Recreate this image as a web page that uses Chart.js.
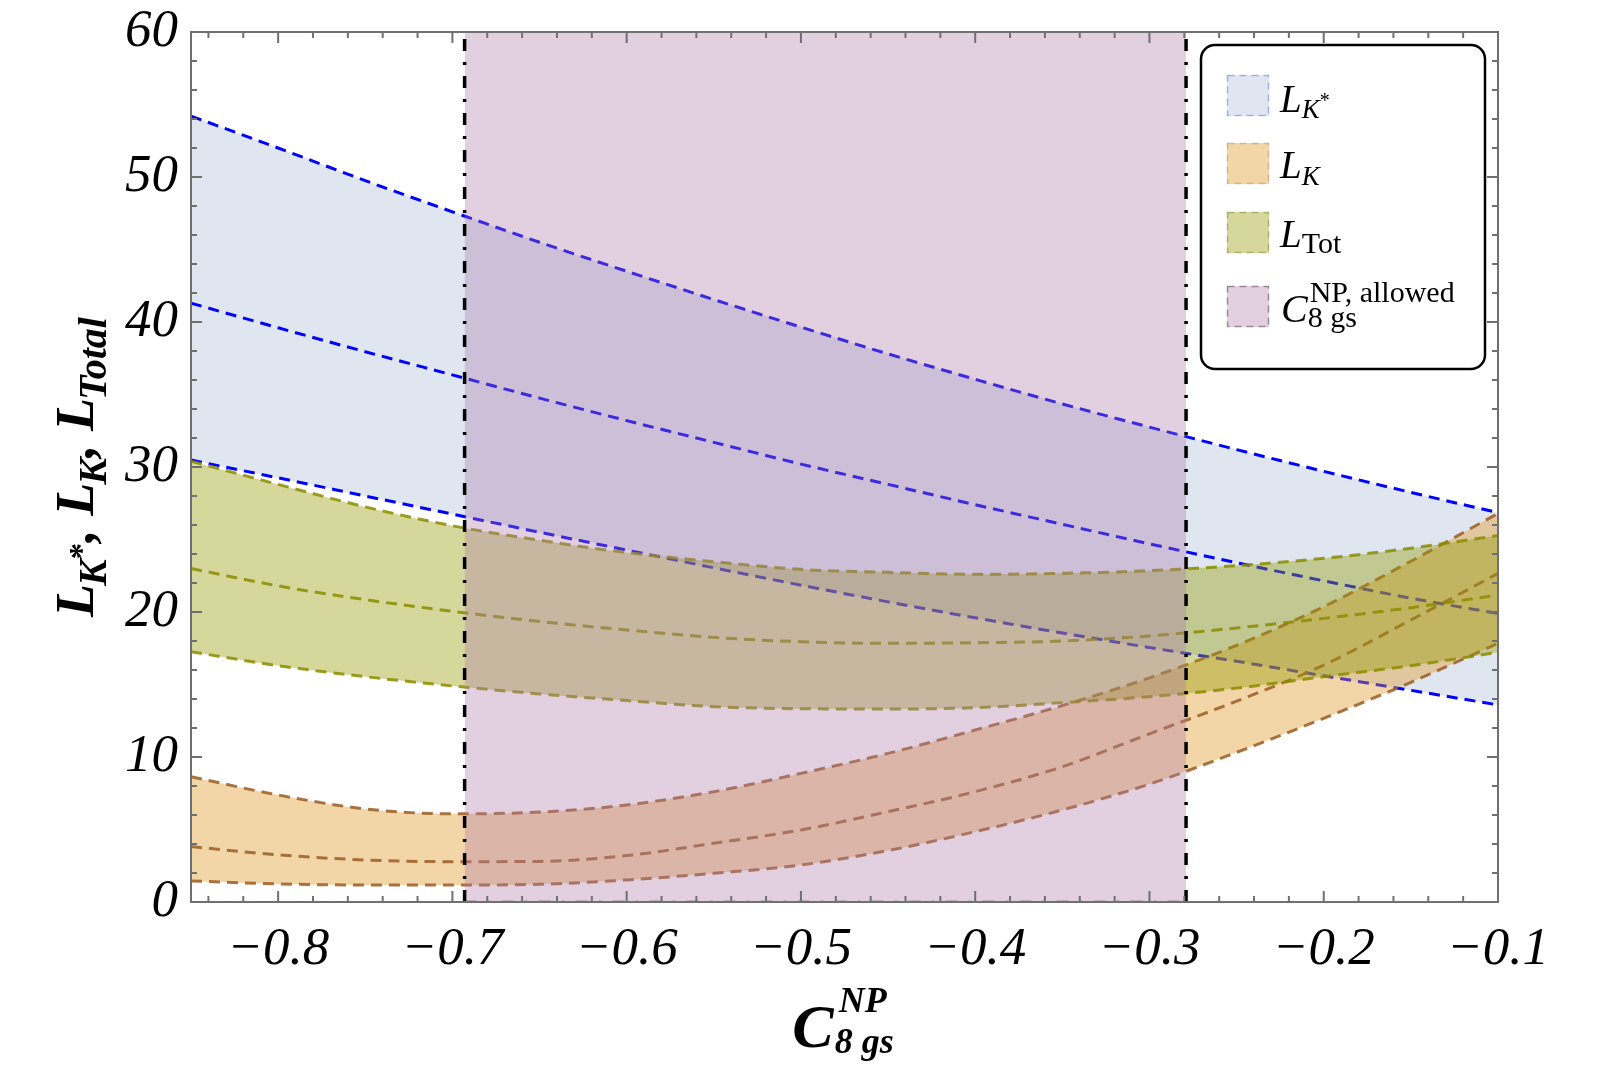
<!DOCTYPE html>
<html>
<head>
<meta charset="utf-8">
<script src="https://cdn.jsdelivr.net/npm/chart.js@4.4.1/dist/chart.umd.min.js"></script>
<style>
  html, body { margin: 0; padding: 0; background: #fff; }
  #wrap { width: 1600px; height: 1067px; position: relative; }
</style>
</head>
<body>
<div id="wrap"><canvas id="chart" width="1600" height="1067"></canvas></div>
<script>
// values (x = C8gs^NP)
const xVals = [-0.85, -0.8, -0.75, -0.7, -0.65, -0.6, -0.55, -0.5, -0.45, -0.4, -0.35, -0.3, -0.25, -0.2, -0.15, -0.1];

// L_K* band
const lKstarUpper = [54.2, 52.0, 49.75, 47.6, 45.5, 43.5, 41.55, 39.65, 37.8, 36.05, 34.35, 32.75, 31.2, 29.7, 28.25, 26.85];
const lKstarMid   = [41.3, 39.6, 37.95, 36.35, 34.75, 33.2, 31.7, 30.2, 28.8, 27.4, 26.05, 24.7, 23.4, 22.15, 20.95, 19.9];
const lKstarLower = [30.48, 29.25, 28.0, 26.75, 25.5, 24.27, 23.05, 21.85, 20.7, 19.6, 18.55, 17.55, 16.6, 15.6, 14.6, 13.59];

// L_K band
const lKUpper = [8.64, 7.38, 6.42, 6.08, 6.2, 6.69, 7.61, 8.87, 10.25, 11.86, 13.55, 15.46, 17.7, 20.37, 23.5, 26.8];
const lKMid   = [3.82, 3.25, 2.9, 2.78, 2.8, 3.2, 4.05, 4.97, 6.23, 7.61, 9.33, 11.6, 13.85, 16.34, 19.45, 22.66];
const lKLower = [1.45, 1.25, 1.17, 1.17, 1.22, 1.52, 1.98, 2.55, 3.55, 4.85, 6.35, 8.13, 10.32, 12.67, 15.15, 17.84];

// L_Tot band
const lTotUpper = [30.4, 28.8, 27.25, 25.95, 24.95, 24.1, 23.47, 22.94, 22.74, 22.6, 22.67, 22.85, 23.2, 23.7, 24.4, 25.27];
const lTotMid   = [23.0, 21.8, 20.85, 20.05, 19.35, 18.76, 18.25, 17.95, 17.84, 17.88, 18.0, 18.35, 18.9, 19.56, 20.3, 21.17];
const lTotLower = [17.26, 16.3, 15.54, 14.9, 14.35, 13.89, 13.47, 13.33, 13.31, 13.4, 13.75, 14.16, 14.75, 15.54, 16.3, 17.22];

// allowed C8gs^NP window
const allowedRange = [-0.693, -0.279];

const xRange = [-0.85, -0.1];
const yRange = [0, 60];
const xTickLabels = [-0.8, -0.7, -0.6, -0.5, -0.4, -0.3, -0.2, -0.1];
const yTickLabels = [0, 10, 20, 30, 40, 50, 60];

const SERIF = '"Liberation Serif", "Times New Roman", serif';

const blueFill = 'rgba(94,129,181,0.2)';
const orangeFill = 'rgba(225,153,35,0.4)';
const greenFill = 'rgba(150,155,5,0.4)';
const purpleFill = 'rgba(172,121,169,0.35)';
const blueLine = 'rgb(0,0,255)';
const orangeLine = 'rgba(160,100,45,0.9)';
const greenLine = 'rgba(140,140,0,0.85)';

function pts(ys) { return xVals.map((x, i) => ({ x: x, y: ys[i] })); }

function bandLine(ys, color, order, fillTarget, fillColor) {
  return {
    data: pts(ys),
    borderColor: color,
    borderWidth: 3,
    borderDash: [11, 7],
    backgroundColor: fillColor || 'transparent',
    fill: fillTarget === undefined ? false : { target: fillTarget },
    cubicInterpolationMode: 'monotone',
    pointRadius: 0,
    order: order
  };
}

function vLine(x) {
  return {
    data: [{ x: x, y: yRange[0] }, { x: x, y: yRange[1] }],
    borderColor: '#000',
    borderWidth: 3.5,
    borderDash: [12, 11, 3, 11],
    fill: false,
    pointRadius: 0,
    order: 1
  };
}

// frame with inward ticks on all four sides
const framePlugin = {
  id: 'frame',
  afterDatasetsDraw(chart) {
    const { ctx, chartArea: a, scales } = chart;
    const sx = scales.x, sy = scales.y;
    ctx.save();
    ctx.strokeStyle = '#707070';
    ctx.lineWidth = 2;
    ctx.beginPath();
    const xt = (px, len) => {
      ctx.moveTo(px, a.bottom); ctx.lineTo(px, a.bottom - len);
      ctx.moveTo(px, a.top); ctx.lineTo(px, a.top + len);
    };
    const yt = (py, len) => {
      ctx.moveTo(a.left, py); ctx.lineTo(a.left + len, py);
      ctx.moveTo(a.right, py); ctx.lineTo(a.right - len, py);
    };
    xTickLabels.forEach(v => xt(sx.getPixelForValue(v), 11));
    for (let k = -42; k <= -6; k++) {
      if (k % 5 !== 0) xt(sx.getPixelForValue(k * 0.02), 6);
    }
    yTickLabels.forEach(v => yt(sy.getPixelForValue(v), 11));
    for (let k = 1; k < 30; k++) {
      if (k % 5 !== 0) yt(sy.getPixelForValue(k * 2), 6);
    }
    ctx.stroke();
    ctx.strokeRect(a.left, a.top, a.right - a.left, a.bottom - a.top);
    ctx.restore();
  }
};

function runs(ctx, x, y, parts) {
  let cx = x;
  parts.forEach(p => {
    ctx.font = p.font;
    ctx.fillText(p.t, cx + (p.dx || 0), y + (p.dy || 0));
    cx += ctx.measureText(p.t).width + (p.dx || 0);
  });
  return cx;
}

function runsWidth(ctx, parts) {
  let w = 0;
  parts.forEach(p => { ctx.font = p.font; w += ctx.measureText(p.t).width + (p.dx || 0); });
  return w;
}

const textPlugin = {
  id: 'texts',
  afterDraw(chart) {
    const { ctx, chartArea: a } = chart;
    ctx.save();
    ctx.fillStyle = '#000';
    ctx.textBaseline = 'alphabetic';
    ctx.textAlign = 'left';

    // y axis title
    const big = 'italic bold 54px ' + SERIF;
    const sub = 'italic bold 40px ' + SERIF;
    const yParts = [
      { t: 'L', font: big },
      { t: 'K', font: sub, dy: 13, dx: -2 },
      { t: '*', font: 'bold 33px ' + SERIF, dy: -1 },
      { t: ', ', font: big },
      { t: 'L', font: big },
      { t: 'K', font: sub, dy: 13, dx: -2 },
      { t: ', ', font: big },
      { t: 'L', font: big },
      { t: 'Total', font: sub, dy: 13, dx: -2 }
    ];
    const yw = runsWidth(ctx, yParts);
    const cy = (a.top + a.bottom) / 2;
    ctx.save();
    ctx.translate(93, cy);
    ctx.rotate(-Math.PI / 2);
    runs(ctx, -yw / 2, 0, yParts);
    ctx.restore();

    // x axis title
    ctx.font = 'italic bold 62px ' + SERIF;
    const cW = ctx.measureText('C').width;
    ctx.font = 'italic bold 36px ' + SERIF;
    const supW = ctx.measureText('NP').width;
    const subW = ctx.measureText('8 gs').width;
    const totW = cW + 4 + Math.max(supW, subW);
    const cx = (a.left + a.right) / 2 - totW / 2;
    ctx.font = 'italic bold 62px ' + SERIF;
    ctx.fillText('C', cx, 1047);
    ctx.font = 'italic bold 36px ' + SERIF;
    ctx.fillText('NP', cx + cW + 5, 1012);
    ctx.fillText('8 gs', cx + cW + 1, 1053);

    // legend
    const bx = 1201, by = 45, bw = 284, bh = 324;
    ctx.beginPath();
    ctx.roundRect(bx, by, bw, bh, 14);
    ctx.fillStyle = '#fff';
    ctx.fill();
    ctx.lineWidth = 2.5;
    ctx.strokeStyle = '#000';
    ctx.stroke();

    const items = [
      { top: 75, fill: blueFill, edge: 'rgba(120,120,230,0.55)' },
      { top: 143, fill: orangeFill, edge: 'rgba(190,150,100,0.55)' },
      { top: 212, fill: greenFill, edge: 'rgba(140,140,60,0.55)' },
      { top: 286, fill: purpleFill, edge: 'rgba(120,105,120,0.7)' }
    ];
    items.forEach(it => {
      ctx.fillStyle = it.fill;
      ctx.fillRect(1227, it.top, 42, 41);
      ctx.setLineDash([7, 5]);
      ctx.lineWidth = 1.5;
      ctx.strokeStyle = it.edge;
      ctx.strokeRect(1227.5, it.top + 0.5, 41, 40);
      ctx.setLineDash([]);
    });

    ctx.fillStyle = '#000';
    const li = 'italic 39px ' + SERIF;
    const ls = 'italic 27px ' + SERIF;
    const up = '30px ' + SERIF;
    runs(ctx, 1280, 112, [
      { t: 'L', font: li },
      { t: 'K', font: ls, dy: 6 },
      { t: '*', font: '20px ' + SERIF, dy: -5 }
    ]);
    runs(ctx, 1280, 178, [
      { t: 'L', font: li },
      { t: 'K', font: ls, dy: 7 }
    ]);
    runs(ctx, 1280, 247, [
      { t: 'L', font: li },
      { t: 'Tot', font: up, dy: 6 }
    ]);
    ctx.font = 'italic 40px ' + SERIF;
    ctx.fillText('C', 1281, 322);
    const cw2 = ctx.measureText('C').width;
    ctx.font = up;
    ctx.fillText('NP, allowed', 1283 + cw2, 302);
    ctx.fillText('8 gs', 1281 + cw2, 327);

    ctx.restore();
  }
};

const datasets = [
  bandLine(lKstarUpper, blueLine, 62, 2, blueFill),   // 0
  bandLine(lKstarMid, blueLine, 61),                  // 1
  bandLine(lKstarLower, blueLine, 61),                // 2
  bandLine(lKUpper, orangeLine, 52, 5, orangeFill),   // 3
  bandLine(lKMid, orangeLine, 51),                    // 4
  bandLine(lKLower, orangeLine, 51),                  // 5
  bandLine(lTotUpper, greenLine, 42, 8, greenFill),   // 6
  bandLine(lTotMid, greenLine, 41),                   // 7
  bandLine(lTotLower, greenLine, 41),                 // 8
  {                                                   // 9 allowed window
    data: [{ x: allowedRange[0], y: yRange[1] }, { x: allowedRange[1], y: yRange[1] }],
    borderColor: 'transparent',
    borderWidth: 0,
    backgroundColor: purpleFill,
    fill: 'origin',
    pointRadius: 0,
    order: 30
  },
  {                                                   // 10 window base edge
    data: [{ x: allowedRange[0], y: yRange[0] }, { x: allowedRange[1], y: yRange[0] }],
    borderColor: 'rgba(130,110,130,0.7)',
    borderWidth: 3,
    borderDash: [12, 11, 3, 11],
    fill: false,
    pointRadius: 0,
    order: 29
  },
  vLine(allowedRange[0]),
  vLine(allowedRange[1])
];

const fmtX = v => (v < 0 ? '\u2212' : '') + Math.abs(v).toFixed(1);

new Chart(document.getElementById('chart'), {
  type: 'line',
  data: { datasets: datasets },
  options: {
    responsive: false,
    devicePixelRatio: 1,
    animation: false,
    events: [],
    layout: { padding: { left: 0, right: 102, top: 32, bottom: 0 } },
    plugins: { legend: { display: false }, tooltip: { enabled: false } },
    scales: {
      x: {
        type: 'linear',
        min: xRange[0],
        max: xRange[1],
        grid: { display: false },
        border: { display: false },
        afterBuildTicks: s => { s.ticks = xTickLabels.map(v => ({ value: v })); },
        afterFit: s => { s.height = 165; s.paddingLeft = 0; s.paddingRight = 0; },
        ticks: {
          color: '#000',
          padding: 8,
          maxRotation: 0,
          autoSkip: false,
          font: { family: SERIF, size: 53, style: 'italic' },
          callback: v => fmtX(v)
        }
      },
      y: {
        type: 'linear',
        min: yRange[0],
        max: yRange[1],
        grid: { display: false },
        border: { display: false },
        afterBuildTicks: s => { s.ticks = yTickLabels.map(v => ({ value: v })); },
        afterFit: s => { s.width = 191; s.paddingTop = 0; s.paddingBottom = 0; },
        ticks: {
          color: '#000',
          padding: 5,
          autoSkip: false,
          font: { family: SERIF, size: 53, style: 'italic' },
          callback: v => String(v)
        }
      }
    }
  },
  plugins: [framePlugin, textPlugin]
});
</script>
</body>
</html>
